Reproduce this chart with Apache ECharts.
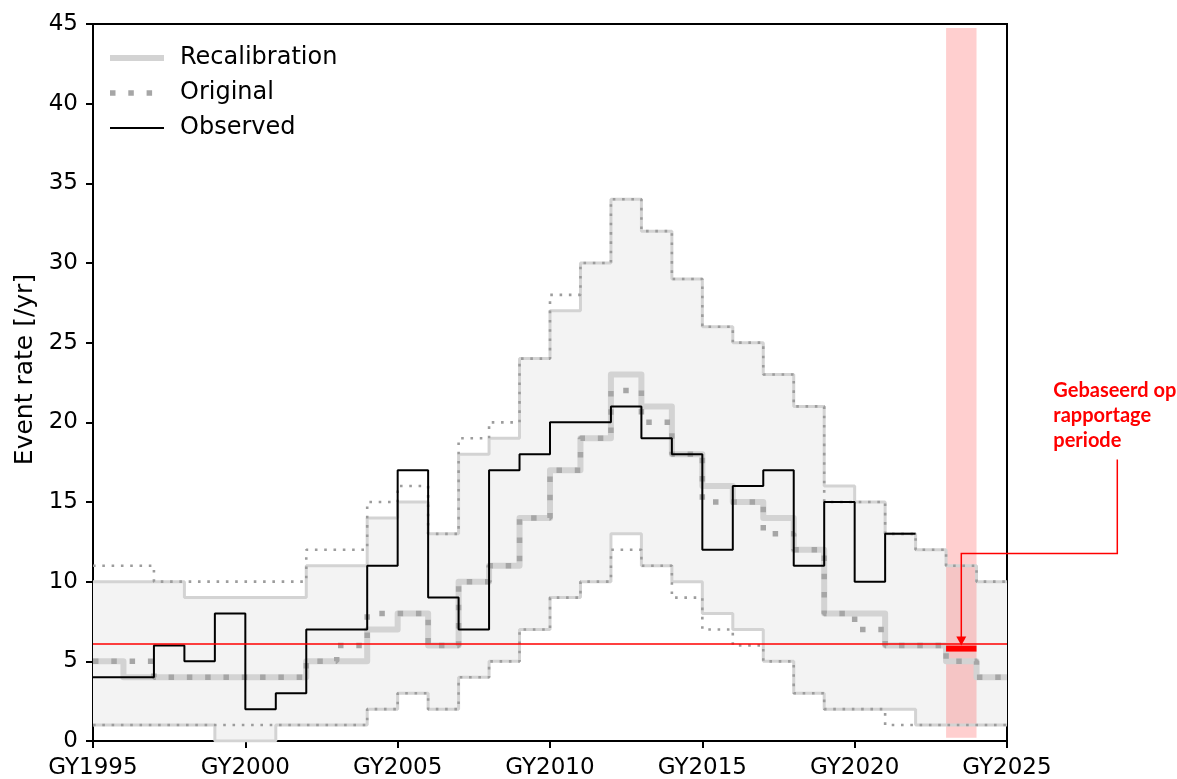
<!DOCTYPE html>
<html>
<head>
<meta charset="utf-8">
<script src="https://cdn.jsdelivr.net/npm/echarts@6/dist/echarts.min.js"></script>
<style>
html,body{margin:0;padding:0;background:#fff;}
#c{width:1177px;height:779px;}
</style>
</head>
<body>
<div id="c"></div>
<script>
// ---------- data (gas years, each value holds for one year) ----------
const years = [1995,1996,1997,1998,1999,2000,2001,2002,2003,2004,2005,2006,2007,2008,2009,
               2010,2011,2012,2013,2014,2015,2016,2017,2018,2019,2020,2021,2022,2023,2024];
const recalMean  = [5,4,4,4,4,4,4,5,5,7,8,6,10,11,14,17,19,23,21,18,16,15,14,12,8,8,6,6,5,4];
const origMean   = [5,5,4,4,4,4,4,5,6,8,8,6,10,11,14,17,19,22,20,18,15,15,13,12,8,7,6,6,5,4];
const recalUpper = [10,10,10,9,9,9,9,11,11,14,15,13,18,19,24,27,30,34,32,29,26,25,23,21,16,15,13,12,11,10];
const recalLower = [1,1,1,1,0,0,1,1,1,2,3,2,4,5,7,9,10,13,11,10,8,7,5,3,2,2,2,1,1,1];
const origUpper  = [11,11,10,10,10,10,10,12,12,15,16,13,19,20,24,28,30,34,32,29,26,25,23,21,15,15,13,12,11,10];
const origLower  = [1,1,1,1,1,1,1,1,1,2,3,2,4,5,7,9,10,12,11,9,7,6,5,3,2,2,1,1,1,1];
const observed   = [4,4,6,5,8,2,3,7,7,11,17,9,7,17,18,20,20,21,19,18,12,16,17,11,15,10,13];
const refRate = 6.1;            // red horizontal reference
const reportPeriod = [2023, 2024];
const reportValue = 5.8;        // rate based on reporting period
const bandYRange = [0.2, 44.75];
const xTickLabels = ['GY1995','GY2000','GY2005','GY2010','GY2015','GY2020','GY2025'];
const legendNames = ['Recalibration','Original','Observed'];
const annotationText = 'Gebaseerd op\nrapportage\nperiode';

// step helper: value i holds from years[i] to years[i]+1
function stepData(vals){
  const d = vals.map((v,i)=>[years[i], v]);
  d.push([years[vals.length-1]+1, vals[vals.length-1]]);
  return d;
}

const FONT = 'DejaVu Sans';
const greyLight = '#d3d3d3';
const greyDot = '#a6a6a6';

const option = {
  animation: false,
  backgroundColor: '#fff',
  grid: {left: 93, right: 170, top: 24, bottom: 38, show: true, borderColor: '#000', borderWidth: 2,
         backgroundColor: 'transparent', outerBoundsMode: 'none', containLabel: false},
  legend: {
    data: legendNames,
    orient: 'vertical',
    left: 102, top: 41,
    itemWidth: 54, itemHeight: 14, itemGap: 11,
    selectedMode: false,
    textStyle: {fontFamily: FONT, fontSize: 24, color: '#000', lineHeight: 24, padding: [0,0,0,11]},
    lineStyle: {width: 'inherit', type: 'inherit', cap: 'inherit'},
    itemStyle: {opacity: 0}
  },
  xAxis: {
    type: 'value', min: 1995, max: 2025, interval: 5,
    axisLine: {lineStyle: {color: '#000', width: 2}},
    axisTick: {show: true, inside: false, length: 7, lineStyle: {color: '#000', width: 2}},
    axisLabel: {fontFamily: FONT, fontSize: 23, color: '#000', margin: 16,
      formatter: v => xTickLabels[Math.round((v-1995)/5)]},
    splitLine: {show: false}
  },
  yAxis: {
    type: 'value', min: 0, max: 45, interval: 5,
    name: 'Event rate [/yr]', nameLocation: 'middle', nameGap: 55,
    nameTextStyle: {fontFamily: FONT, fontSize: 25, color: '#000', padding: [0,0,0,26]},
    axisLine: {show: true, lineStyle: {color: '#000', width: 2}},
    axisTick: {show: true, inside: false, length: 7, lineStyle: {color: '#000', width: 2}},
    axisLabel: {fontFamily: FONT, fontSize: 23, color: '#000', margin: 15},
    splitLine: {show: false}
  },
  series: [
    {
      name: 'band', type: 'custom', silent: true, z: 1,
      data: [[years[0], 0]],
      renderItem: function(params, api){
        const pts = [];
        for (let i = 0; i < years.length; i++){
          pts.push(api.coord([years[i], recalUpper[i]]));
          pts.push(api.coord([years[i]+1, recalUpper[i]]));
        }
        for (let i = years.length-1; i >= 0; i--){
          pts.push(api.coord([years[i]+1, recalLower[i]]));
          pts.push(api.coord([years[i], recalLower[i]]));
        }
        return {type: 'polygon', shape: {points: pts}, style: {fill: '#f3f3f3', stroke: null}};
      }
    },
    {name: 'recalUpper', type: 'line', step: 'end', data: stepData(recalUpper), showSymbol: false, symbol: 'none', silent: true,
     lineStyle: {color: greyLight, width: 3}},
    {name: 'recalLower', type: 'line', step: 'end', data: stepData(recalLower), showSymbol: false, symbol: 'none', silent: true,
     lineStyle: {color: greyLight, width: 3}},
    {name: 'origUpper', type: 'line', step: 'end', data: stepData(origUpper), showSymbol: false, symbol: 'none', silent: true,
     lineStyle: {color: '#9c9c9c', width: 2.6, type: [2.6, 6.7], cap: 'butt'}},
    {name: 'origLower', type: 'line', step: 'end', data: stepData(origLower), showSymbol: false, symbol: 'none', silent: true,
     lineStyle: {color: '#9c9c9c', width: 2.6, type: [2.6, 6.7], cap: 'butt'}},
    {name: 'Recalibration', type: 'line', step: 'end', data: stepData(recalMean), showSymbol: false, symbol: 'none', silent: true,
     itemStyle: {color: greyLight},
     lineStyle: {color: greyLight, width: 6, join: 'round', cap: 'butt'}},
    {name: 'Original', type: 'line', step: 'end', data: stepData(origMean), showSymbol: false, symbol: 'none', silent: true,
     itemStyle: {color: greyDot},
     lineStyle: {color: greyDot, width: 5.5, type: [5.5, 12.8], cap: 'butt'}},
    {name: 'Observed', type: 'line', step: 'end', data: stepData(observed), showSymbol: false, symbol: 'none', silent: true,
     itemStyle: {color: '#000'},
     lineStyle: {color: '#000', width: 2}},
    {name: 'report', type: 'line', data: [[reportPeriod[0], reportValue],[reportPeriod[1], reportValue]],
     showSymbol: false, symbol: 'none', silent: true, z: 5,
     lineStyle: {color: '#ff0000', width: 6, cap: 'butt'},
     markLine: {silent: true, symbol: 'none', z: 4, label: {show: false},
       lineStyle: {color: '#ff0000', width: 1.5, type: 'solid'},
       emphasis: {disabled: true},
       data: [{yAxis: refRate}]},
     markArea: {silent: true, z: 3,
       itemStyle: {color: 'rgba(255,0,0,0.19)'},
       emphasis: {disabled: true},
       data: [[{xAxis: reportPeriod[0], yAxis: bandYRange[0]}, {xAxis: reportPeriod[1], yAxis: bandYRange[1]}]]}
    }
  ]
};

const chart = echarts.init(document.getElementById('c'), null, {renderer: 'canvas'});
chart.setOption(option);

// annotation arrow anchored on the reporting-period bar
const tip = chart.convertToPixel({gridIndex: 0}, [(reportPeriod[0]+reportPeriod[1])/2, reportValue]);
const tipX = tip[0], tipY = tip[1] - 3;
const elbowY = tipY - 92, rightX = tipX + 156, topY = elbowY - 94;
chart.setOption({
  graphic: [
    {type: 'polyline', z: 10, silent: true,
     shape: {points: [[rightX, topY],[rightX, elbowY],[tipX, elbowY],[tipX, tipY - 7]]},
     style: {stroke: '#ff0000', lineWidth: 1.5, fill: null}},
    {type: 'polygon', z: 10, silent: true,
     shape: {points: [[tipX - 5, tipY - 9],[tipX + 5, tipY - 9],[tipX, tipY]]},
     style: {fill: '#ff0000'}},
    {type: 'text', z: 10, silent: true, left: rightX - 64, top: topY - 82,
     style: {text: annotationText, fill: '#ff0000', font: 'bold 20px Lato', lineHeight: 25}}
  ]
});
</script>
</body>
</html>
